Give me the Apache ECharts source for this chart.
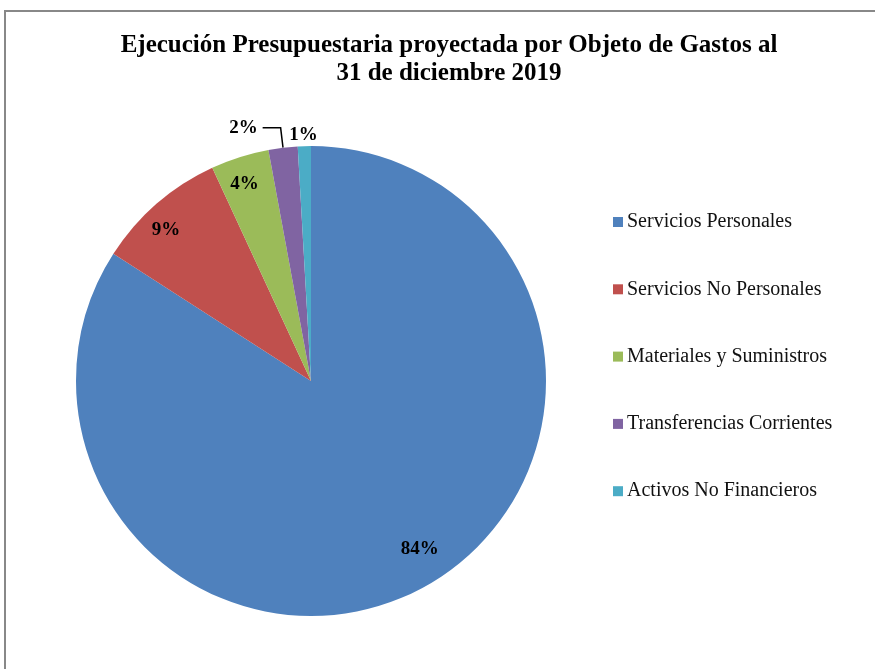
<!DOCTYPE html>
<html>
<head>
<meta charset="utf-8">
<script src="https://cdn.jsdelivr.net/npm/echarts@6/dist/echarts.min.js"></script>
<style>
  html, body { margin: 0; padding: 0; background: #fff; }
  #grafico { width: 875px; height: 669px; }
</style>
</head>
<body>
<div id="grafico"></div>
<script>
// datos
const categorias = ['Servicios Personales', 'Servicios No Personales', 'Materiales y Suministros', 'Transferencias Corrientes', 'Activos No Financieros'];
const valores = [84.1, 9.0, 4.0, 2.0, 0.9];
const colores = ['#4F81BD', '#C0504D', '#9BBB59', '#8064A2', '#4BACC6'];

// ajustes de etiqueta por porcion (estilo, no datos)
const etiquetas = [
    { position: 'inside', offset: [51, 62] },
    { position: 'inside', offset: [-66, -60] },
    { position: 'inside', offset: [-30, -82] },
    { position: 'outside' },
    { position: 'outside', offset: [37, 9] }
];
const lineas = [false, false, false, true, false];

const initchart = () => {
    const chart = echarts.init(document.getElementById('grafico'));

    const datos = categorias.map((nombre, i) => ({
        name: nombre,
        value: valores[i],
        itemStyle: { color: colores[i] },
        label: etiquetas[i],
        labelLine: { show: lineas[i] }
    }));

    chart.setOption({
        animation: false,
        title: {
            text: 'Ejecución Presupuestaria proyectada por Objeto de Gastos al\n31 de diciembre 2019',
            left: 444,
            top: 27,
            textAlign: 'center',
            textStyle: {
                fontFamily: 'Liberation Serif',
                fontWeight: 'bold',
                fontSize: 25,
                lineHeight: 28,
                color: '#000'
            }
        },
        legend: {
            orient: 'vertical',
            left: 608,
            top: 207,
            itemWidth: 10,
            itemHeight: 10,
            itemGap: 47.3,
            icon: 'rect',
            data: categorias,
            textStyle: {
                fontFamily: 'Liberation Serif',
                fontSize: 20,
                lineHeight: 19,
                color: '#111',
                padding: [0, 0, 0, -1]
            }
        },
        graphic: [{
            type: 'rect',
            shape: { x: 5, y: 11, width: 900, height: 700 },
            style: { fill: 'none', stroke: '#888', lineWidth: 2 },
            silent: true
        }],
        series: [{
            type: 'pie',
            center: [311, 381],
            radius: 235,
            startAngle: 90,
            clockwise: true,
            avoidLabelOverlap: false,
            label: {
                formatter: p => Math.round(p.percent) + '%',
                fontFamily: 'Liberation Serif',
                fontWeight: 'bold',
                fontSize: 19,
                color: '#000'
            },
            labelLine: {
                length: 20,
                length2: 18,
                lineStyle: { color: '#000', width: 1.5 }
            },
            itemStyle: { borderWidth: 0 },
            emphasis: { disabled: true },
            data: datos
        }]
    });
};

window.addEventListener('load', () => {
    initchart();
});
</script>
</body>
</html>
